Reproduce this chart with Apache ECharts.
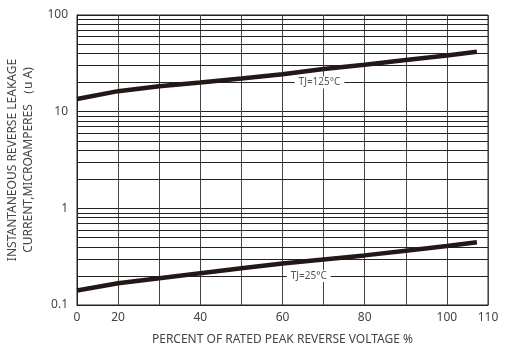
<!DOCTYPE html>
<html>
<head>
<meta charset="utf-8">
<script src="https://cdn.jsdelivr.net/npm/echarts@6/dist/echarts.min.js"></script>
<style>html,body{margin:0;padding:0;background:#fff}#c{width:506px;height:346px}</style>
</head>
<body>
<div id="c"></div>
<script>
// x positions in axis units (axis runs 10..110, first tick labelled "0" as in the original)
const xTicks = [10, 20, 40, 60, 80, 100, 110];
const xTickLabels = ['0', '20', '40', '60', '80', '100', '110'];
const xPct = [10, 20, 30, 40, 50, 60, 70, 80, 90, 100, 107.3];
const tj125 = [13.5, 16.3, 18.3, 20.0, 22.0, 24.4, 27.6, 30.6, 34.2, 38.2, 41.7];
const tj25 = [0.141, 0.168, 0.189, 0.213, 0.240, 0.269, 0.296, 0.326, 0.365, 0.408, 0.445];
const yMinor = [0.2,0.3,0.4,0.5,0.6,0.7,0.8,0.9, 2,3,4,5,6,7,8,9, 20,30,40,50,60,70,80,90];
const label125 = ['TJ=125°C', 69, 20];
const label25 = ['TJ=25°C', 66.4, 0.2];

const font = 'Noto Sans';
const lineColor = '#231815';
const chart = echarts.init(document.getElementById('c'));
const pair = (xs, ys) => xs.map((x, i) => [x, ys[i]]);
chart.setOption({
  animation: false,
  grid: { left: 77, right: 18, top: 15, bottom: 41, outerBoundsMode: 'none', containLabel: false,
          show: true, borderColor: '#222', borderWidth: 1 },
  xAxis: {
    type: 'value', min: 10, max: 110, interval: 10,
    name: 'PERCENT OF RATED PEAK REVERSE VOLTAGE %',
    nameLocation: 'middle', nameGap: 29,
    nameTextStyle: { fontFamily: font, fontSize: 12, color: '#444' },
    axisLine: { show: true, lineStyle: { color: '#222', width: 1 } },
    axisTick: { show: false },
    axisLabel: {
      fontFamily: font, fontSize: 12, color: '#444', margin: 7,
      formatter: v => { const i = xTicks.indexOf(v); return i >= 0 ? xTickLabels[i] : ''; }
    },
    splitLine: { show: true, lineStyle: { color: '#444', width: 1 } }
  },
  yAxis: {
    type: 'log', logBase: 10, min: 0.1, max: 100,
    name: 'INSTANTANEOUS REVERSE LEAKAGE\nCURRENT,MICROAMPERES （u A)',
    nameLocation: 'middle', nameGap: 40, nameRotate: 90,
    nameTextStyle: { fontFamily: font, fontSize: 12, color: '#444', lineHeight: 16 },
    axisLine: { show: true, lineStyle: { color: '#222', width: 1 } },
    axisTick: { show: false },
    axisLabel: { fontFamily: font, fontSize: 12, color: '#444', margin: 9 },
    splitLine: { show: true, lineStyle: { color: '#222', width: 1 } }
  },
  series: [
    {
      type: 'line', data: pair(xPct, tj125), symbol: 'none',
      lineStyle: { color: lineColor, width: 4.5 },
      markLine: {
        silent: true, symbol: 'none', animation: false,
        label: { show: false },
        lineStyle: { color: '#222', width: 1, type: 'solid' },
        data: yMinor.map(v => ({ yAxis: v }))
      },
      markPoint: {
        symbol: 'rect', symbolSize: 0,
        label: { show: true, formatter: label125[0], fontFamily: font, fontSize: 10, color: '#555',
                 backgroundColor: '#fff', padding: [1, 4] },
        data: [{ coord: [label125[1], label125[2]] }]
      },
      z: 5
    },
    {
      type: 'line', data: pair(xPct, tj25), symbol: 'none',
      lineStyle: { color: lineColor, width: 4.5 },
      markPoint: {
        symbol: 'rect', symbolSize: 0,
        label: { show: true, formatter: label25[0], fontFamily: font, fontSize: 10, color: '#555',
                 backgroundColor: '#fff', padding: [1, 4] },
        data: [{ coord: [label25[1], label25[2]] }]
      },
      z: 5
    }
  ]
});
</script>
</body>
</html>
